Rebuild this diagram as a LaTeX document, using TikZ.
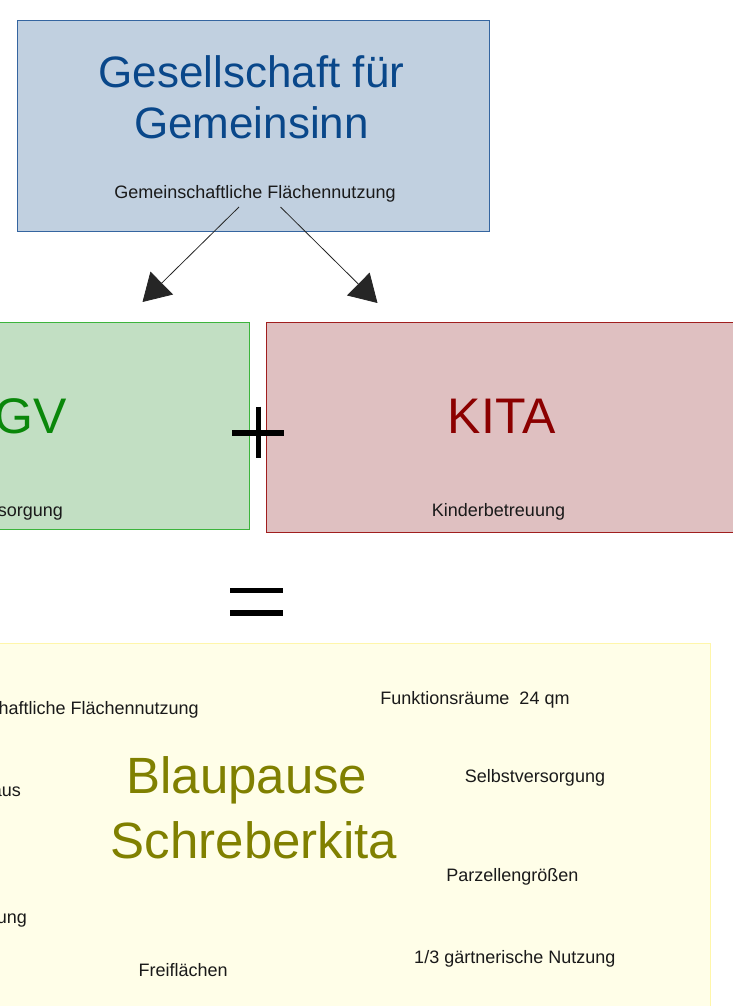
\documentclass[tikz,border=0pt]{standalone}
\usepackage{fontspec}
\setmainfont{Liberation Sans}
\usetikzlibrary{arrows.meta,positioning}

\definecolor{gfgfill}{RGB}{193,208,224}
\definecolor{gfgline}{RGB}{53,101,160}
\definecolor{gfgtext}{RGB}{9,71,138}
\definecolor{gvfill}{RGB}{194,223,195}
\definecolor{gvline}{RGB}{60,180,60}
\definecolor{gvtext}{RGB}{10,135,10}
\definecolor{kitafill}{RGB}{223,192,193}
\definecolor{kitaline}{RGB}{160,30,30}
\definecolor{kitatext}{RGB}{139,0,0}
\definecolor{blaufill}{RGB}{255,254,232}
\definecolor{blauline}{RGB}{255,246,170}
\definecolor{blautext}{RGB}{128,128,0}
\definecolor{darktext}{RGB}{26,26,26}

\begin{document}
\begin{tikzpicture}[x=1pt, y=-1pt,
  box/.style={rectangle, draw, line width=1pt, inner sep=0pt},
  smalltext/.style={font=\fontsize{18}{21.6}\selectfont, text=darktext, inner sep=0pt, anchor=base},
  titletext/.style={font=\fontsize{44}{51}\selectfont, inner sep=0pt, align=center},
  bigname/.style={font=\fontsize{50}{60}\selectfont, inner sep=0pt, anchor=base},
  arrow/.style={-{Triangle[length=27pt,width=32pt]}, line width=0.8pt, draw=black!85},
  sign/.style={line width=5.5pt}
]
  \useasboundingbox (0,0) rectangle (733,1006);
  \clip (0,0) rectangle (733,1006);

  % boxes
  \node[box, fill=gfgfill, draw=gfgline, minimum width=472pt, minimum height=210.5pt] (gfg) at (253.5,126.25) {};
  \node[box, fill=gvfill, draw=gvline, minimum width=399pt, minimum height=207.5pt] (gv) at (49.5,425.75) {};
  \node[box, fill=kitafill, draw=kitaline, minimum width=634pt, minimum height=210pt] (kita) at (583,427) {};
  \node[box, fill=blaufill, draw=blauline, minimum width=860pt, minimum height=506.5pt] (blau) at (280,896.75) {};

  % texts
  \node[titletext, text=gfgtext] (gfgname) at (251.5,97.2) {Gesellschaft für\\Gemeinsinn};
  \node[smalltext] (gfgsub) at (255,198.3) {Gemeinschaftliche Flächennutzung};
  \node[bigname, text=gvtext, anchor=base east] (gvname) at (66.7,433) {GV};
  \node[smalltext, anchor=base east] (gvsub) at (63,516.5) {sorgung};
  \node[bigname, text=kitatext] (kitaname) at (501.7,433) {KITA};
  \node[smalltext] (kitasub) at (498.5,516) {Kinderbetreuung};

  \node[titletext, font=\fontsize{51}{65}\selectfont, text=blautext] (blauname) at (254,807.7) {Blaupause\kern0.28em\\Schreberkita};
  \node[smalltext, anchor=base east] (flaeche) at (199,714.3) {haftliche Flächennutzung};
  \node[smalltext] (funktion) at (475,704) {Funktionsräume\ \ 24 qm};
  \node[smalltext, anchor=base east] (haus) at (21,796) {aus};
  \node[smalltext] (selbst) at (535,782) {Selbstversorgung};
  \node[smalltext] (parzelle) at (512.3,881.7) {Parzellengrößen};
  \node[smalltext, anchor=base east] (nutzung) at (27,923.3) {ung};
  \node[smalltext] (frei) at (183.2,976.7) {Freiflächen};
  \node[smalltext] (garten) at (514.8,963.3) {1/3 gärtnerische Nutzung};

  % arrows
  \coordinate (from1) at (239,207);
  \coordinate (from2) at (280.5,207);
  \coordinate (to1) at (142.5,302);
  \coordinate (to2) at (377.5,303);
  \draw[arrow] (from1) -- (to1);
  \draw[arrow] (from2) -- (to2);

  % plus and equals
  \draw[sign] (232.3,433) -- (284.3,433);
  \draw[sign] (258.3,406.7) -- (258.3,458.3);
  \draw[sign] (230,590.5) -- (282.5,590.5);
  \draw[sign] (230,613) -- (282.5,613);
\end{tikzpicture}
\end{document}
